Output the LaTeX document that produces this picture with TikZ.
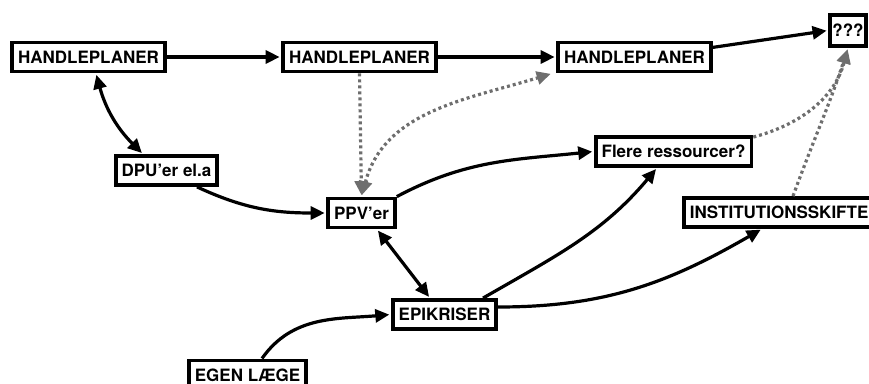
\documentclass[tikz,border=0pt]{standalone}
\usepackage{fontspec}
\setmainfont{TeX Gyre Heros}
\usetikzlibrary{arrows.meta}

\definecolor{hintgray}{RGB}{110,110,110}
\tikzset{
  box/.style={draw, line width=3.8pt, fill=white, inner xsep=6pt, inner ysep=0pt,
    minimum height=29pt, text height=12.2pt, text depth=0pt,
    font=\fontsize{17}{20}\selectfont\bfseries},
  tip/.style={-{Triangle[length=14pt,width=13pt]}},
  link/.style={line width=3.2pt, tip, shorten >=1.5pt},
  twoway/.style={line width=3.2pt, {Triangle[length=14pt,width=13pt]}-{Triangle[length=14pt,width=13pt]},
    shorten >=1.5pt, shorten <=1.5pt},
  hint/.style={line width=3.2pt, draw=hintgray, dash pattern=on 3pt off 3pt, tip, shorten >=1.5pt},
}

\begin{document}
\begin{tikzpicture}[x=1pt, y=1pt]
    \useasboundingbox (0,0) rectangle (869,383);
    %% boxes
    \node[box] (plan1) at (88.5,326) {HANDLEPLANER};
    \node[box] (plan2) at (359.5,326) {HANDLEPLANER};
    \node[box] (plan3) at (634.5,326) {HANDLEPLANER};
    \node[box, inner xsep=2.5pt, minimum height=31pt] (unknown) at (848,352.5) {???};
    \node[box] (dpu) at (166.5,212.5) {DPU’er el.a};
    \node[box] (ppv) at (361.5,170) {PPV’er};
    \node[box] (more) at (673.5,231.5) {Flere ressourcer?};
    \node[box, anchor=west] (shift) at (682,170.5) {INSTITUTIONSSKIFTE};
    \node[box] (epi) at (444.5,68.5) {EPIKRISER};
    \node[box, anchor=north] (doctor) at (247.5,24.5) {EGEN LÆGE};
    %% solid arrows
    \draw[link] (plan1.east) -- (plan2.west);
    \draw[link] (plan2.east) -- (plan3.west);
    \draw[link] (plan3.7) -- (unknown.west);
    \draw[twoway] ([xshift=7.5pt]plan1.south) to[bend right=15] ([xshift=-23.5pt]dpu.north);
    \draw[link] ([xshift=30.5pt]dpu.south) to[out=-25, in=180] (ppv.west);
    \draw[link] (ppv.north east) to[out=28, in=186] (more.west);
    \draw[twoway] ([xshift=15.5pt]ppv.south) -- ([xshift=-14.5pt]epi.north);
    \draw[link] ([xshift=38.5pt]epi.north) to[out=30, in=230] ([xshift=-16.5pt]more.south);
    \draw[link] ([yshift=7.5pt]epi.east) to[out=0, in=210] ([xshift=80pt]shift.south west);
    \draw[link] ([xshift=14.5pt]doctor.north) to[out=55, in=185] (epi.west);
    % dotted grey links
    \draw[hint] (plan2.south) -- (ppv.north);
    \draw[hint, shorten <=1.5pt, {Triangle[length=14pt,width=13pt]}-{Triangle[length=14pt,width=13pt]}]
        (ppv.north) to[out=75, in=197] ([xshift=-4pt]plan3.south west);
    \draw[hint] ([yshift=-2pt]more.north east) to[out=15, in=-105] (unknown.south);
    \draw[hint] ([xshift=111pt]shift.north west) to[out=70, in=-108] (unknown.south);
\end{tikzpicture}
\end{document}
